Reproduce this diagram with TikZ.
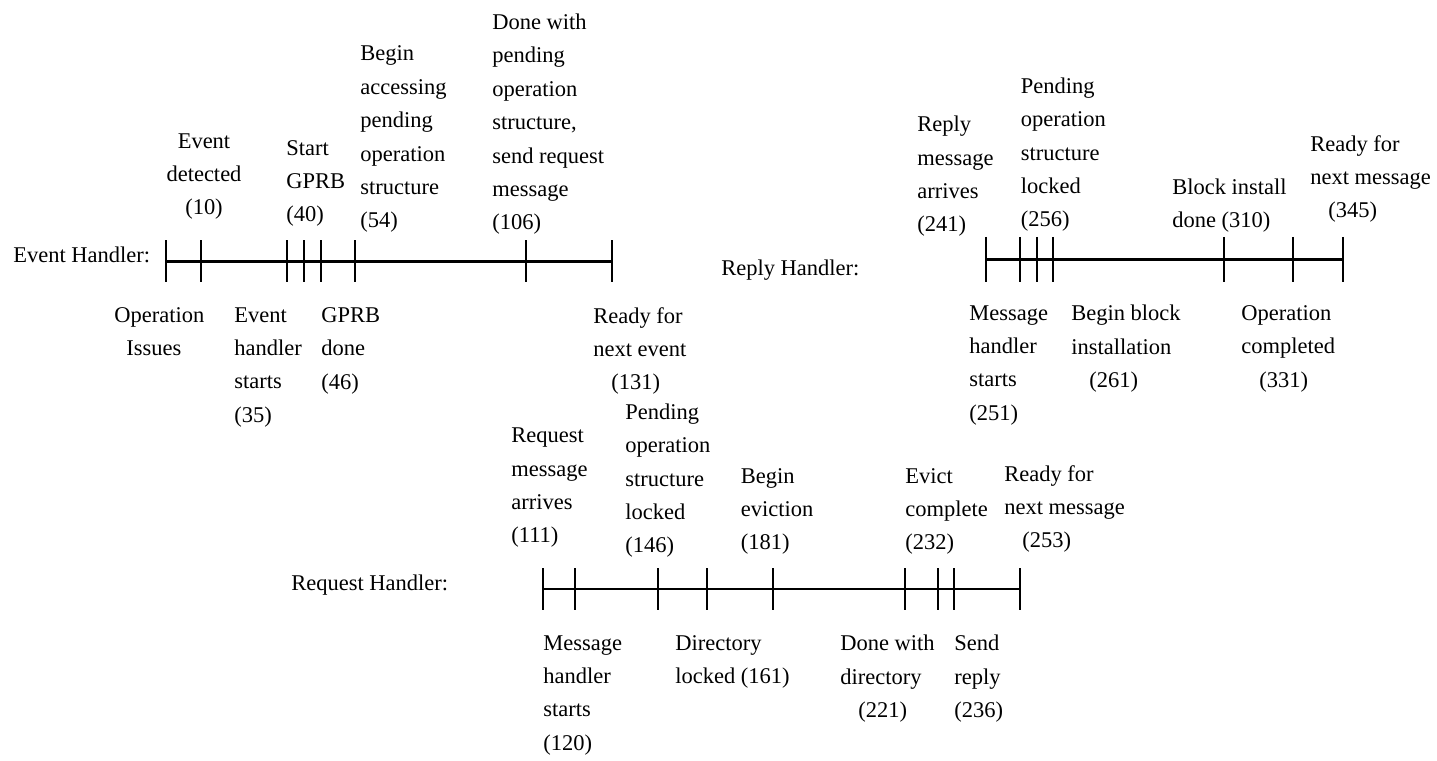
\documentclass[tikz,border=0pt]{standalone}
\usepackage{fontspec}
\setmainfont{Liberation Serif}
\usepackage{tikz}

\begin{document}
\begin{tikzpicture}[draw=black!100,scale=1.0]
	\def \evtrow{9.97cm}
	\def \reprow{10.01cm}
	\def \reqrow{3.42cm}
	\def \ind{\hspace*{0.36cm}}
	\tikzstyle{axis}=[draw=black!100,line width=1.5pt]
	\tikzstyle{t-line}=[draw=black!100,line width=1.1pt]
	\tikzstyle{annot}=[inner sep=0pt,font=\fontsize{12.8}{19}\selectfont]
	\tikzstyle{up-l}=[annot,anchor=south west,align=left]
	\tikzstyle{dn-l}=[annot,anchor=north west,align=left]
	\useasboundingbox (0,0) rectangle (28.74,15.2);
	% row labels
	\node[annot,anchor=base west] (evt-label) at (0.26cm,9.946cm) {Event Handler:};
	\node[annot,anchor=base west] (rep-label) at (14.42cm,9.69cm) {Reply Handler:};
	\node[annot,anchor=base west] (req-label) at (5.82cm,3.39cm) {Request Handler:};
	% event handler
	\coordinate (e0)   at (3.32cm,\evtrow);
	\coordinate (e10)  at (4.014cm,\evtrow);
	\coordinate (e35)  at (5.734cm,\evtrow);
	\coordinate (e40)  at (6.074cm,\evtrow);
	\coordinate (e46)  at (6.414cm,\evtrow);
	\coordinate (e54)  at (7.094cm,\evtrow);
	\coordinate (e106) at (10.52cm,\evtrow);
	\coordinate (e131) at (12.234cm,\evtrow);
	\draw[axis] (e0) -- (e131);
	\foreach \t in {e0,e10,e35,e40,e46,e54,e106,e131}
		\draw[t-line] (\t) ++(0,0.42) -- ++(0,-0.84);
	\node[annot,anchor=south,align=center] (e10-text) at (4.08cm,10.80cm) {Event\\detected\\(10)};
	\node[up-l] (e40-text)  at (5.72cm,10.66cm) {Start\\GPRB\\(40)};
	\node[up-l] (e54-text)  at (7.20cm,10.54cm) {Begin\\accessing\\pending\\operation\\structure\\(54)};
	\node[up-l] (e106-text) at (9.84cm,10.50cm) {Done with\\pending\\operation\\structure,\\send request\\message\\(106)};
	\node[dn-l] (e0-text)   at (2.28cm,9.06cm) {Operation\\\hspace*{0.24cm}Issues};
	\node[dn-l] (e35-text)  at (4.68cm,9.06cm) {Event\\handler\\starts\\(35)};
	\node[dn-l] (e46-text)  at (6.42cm,9.06cm) {GPRB\\done\\(46)};
	\node[dn-l] (e131-text) at (11.86cm,9.06cm) {Ready for\\next event\\\ind(131)};
	% reply handler
	\coordinate (r241) at (19.72cm,\reprow);
	\coordinate (r251) at (20.40cm,\reprow);
	\coordinate (r256) at (20.734cm,\reprow);
	\coordinate (r261) at (21.066cm,\reprow);
	\coordinate (r310) at (24.48cm,\reprow);
	\coordinate (r331) at (25.854cm,\reprow);
	\coordinate (r345) at (26.854cm,\reprow);
	\draw[axis] (r241) -- (r345);
	\foreach \t in {r241,r251,r256,r261,r310,r331,r345}
		\draw[t-line] (\t) ++(0,0.45) -- ++(0,-0.90);
	\node[up-l] (r241-text) at (18.34cm,10.46cm) {Reply\\message\\arrives\\(241)};
	\node[up-l] (r256-text) at (20.41cm,10.56cm) {Pending\\operation\\structure\\locked\\(256)};
	\node[up-l] (r310-text) at (23.44cm,10.54cm) {Block install\\done (310)};
	\node[up-l] (r345-text) at (26.20cm,10.74cm) {Ready for\\next message\\\ind(345)};
	\node[dn-l] (r251-text) at (19.38cm,9.10cm) {Message\\handler\\starts\\(251)};
	\node[dn-l] (r261-text) at (21.42cm,9.10cm) {Begin block\\installation\\\ind(261)};
	\node[dn-l] (r331-text) at (24.82cm,9.10cm) {Operation\\completed\\\ind(331)};
	% request handler
	\coordinate (q111) at (10.854cm,\reqrow);
	\coordinate (q120) at (11.50cm,\reqrow);
	\coordinate (q146) at (13.154cm,\reqrow);
	\coordinate (q161) at (14.134cm,\reqrow);
	\coordinate (q181) at (15.466cm,\reqrow);
	\coordinate (q221) at (18.10cm,\reqrow);
	\coordinate (q232) at (18.754cm,\reqrow);
	\coordinate (q236) at (19.086cm,\reqrow);
	\coordinate (q253) at (20.40cm,\reqrow);
	\draw[axis] (q111) -- (q253);
	\foreach \t in {q111,q120,q146,q161,q181,q221,q232,q236,q253}
		\draw[t-line] (\t) ++(0,0.42) -- ++(0,-0.84);
	\node[up-l] (q111-text) at (10.22cm,4.24cm) {Request\\message\\arrives\\(111)};
	\node[up-l] (q146-text) at (12.50cm,4.04cm) {Pending\\operation\\structure\\locked\\(146)};
	\node[up-l] (q181-text) at (14.81cm,4.10cm) {Begin\\eviction\\(181)};
	\node[up-l] (q232-text) at (18.10cm,4.10cm) {Evict\\complete\\(232)};
	\node[up-l] (q253-text) at (20.08cm,4.14cm) {Ready for\\next message\\\ind(253)};
	\node[dn-l] (q120-text) at (10.86cm,2.50cm) {Message\\handler\\starts\\(120)};
	\node[dn-l] (q161-text) at (13.50cm,2.50cm) {Directory\\locked (161)};
	\node[dn-l] (q221-text) at (16.80cm,2.50cm) {Done with\\directory\\\ind(221)};
	\node[dn-l] (q236-text) at (19.08cm,2.50cm) {Send\\reply\\(236)};
\end{tikzpicture}
\end{document}
